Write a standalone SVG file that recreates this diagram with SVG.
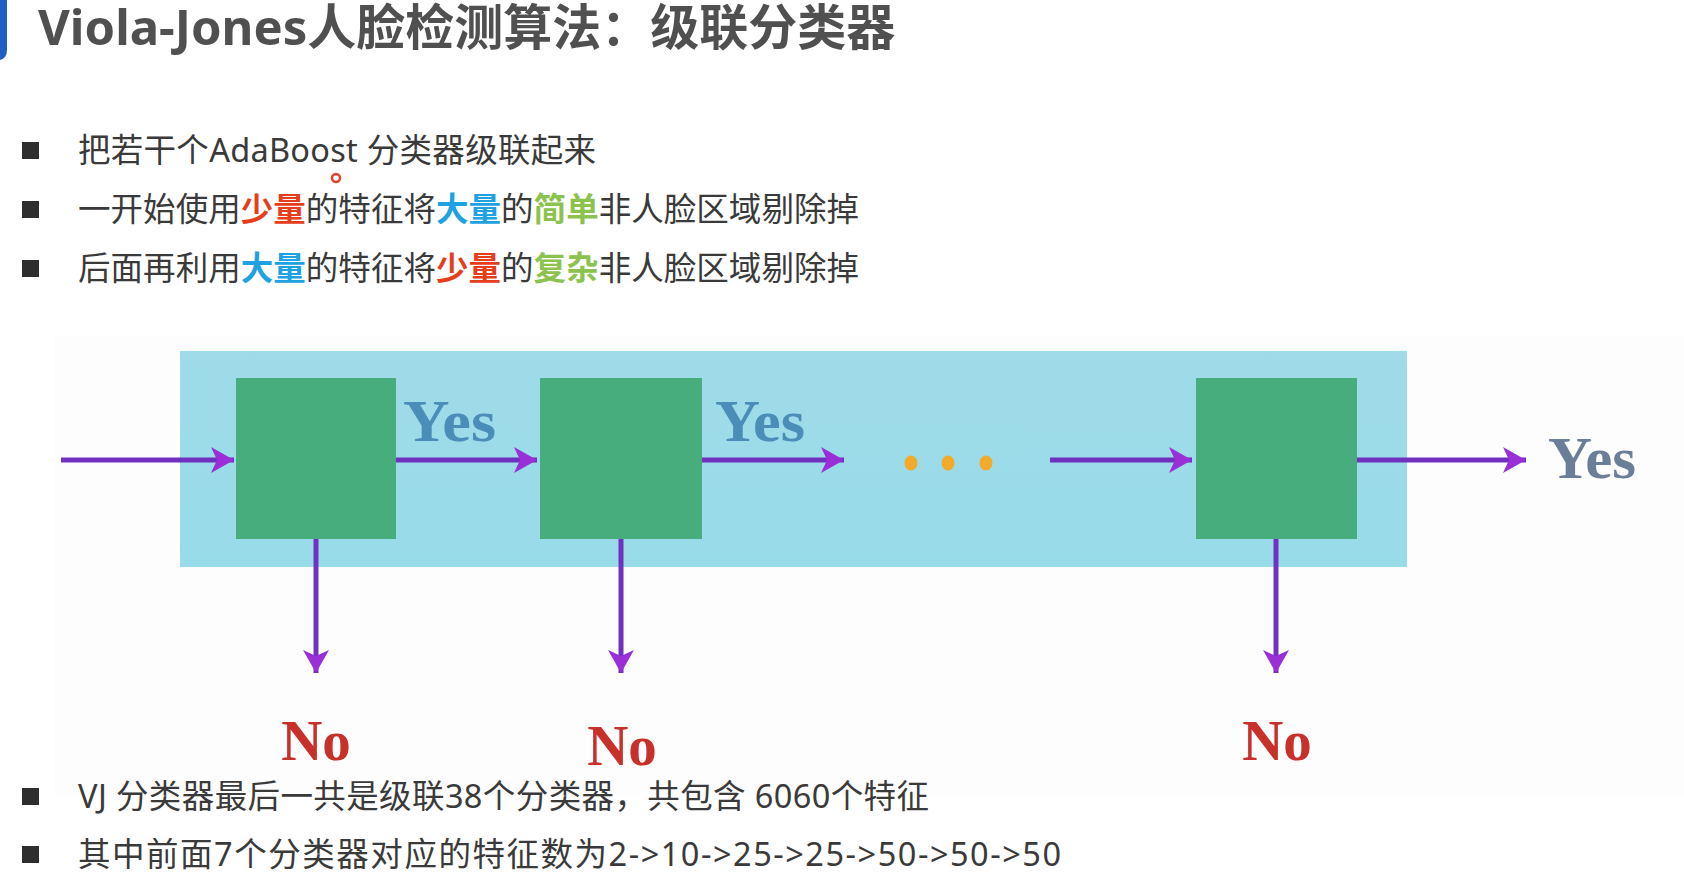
<svg xmlns="http://www.w3.org/2000/svg" width="1684" height="884" viewBox="0 0 1684 884">
<defs>
<style>
.cn{font-family:"Noto Sans","Noto Sans CJK SC",sans-serif;font-size:32.5px;fill:#3a3a3a}
.b{font-weight:bold}
.red{fill:#e63d1c}.blue{fill:#1ea2e2}.green{fill:#8cc34e}
.yes{font-family:"Liberation Serif",serif;font-weight:bold;font-size:59px;fill:#4a8db8}
.no{font-family:"Liberation Serif",serif;font-weight:bold;font-size:57px;fill:#c8302a;text-anchor:middle}
.box{fill:#48ad7c}
.ln{stroke:#7030c0;stroke-width:5;fill:none}
.bul{fill:#2e2e2e}
</style>
<marker id="ah" markerUnits="userSpaceOnUse" markerWidth="28" markerHeight="28" refX="23" refY="13" orient="auto" overflow="visible">
<path d="M0,0 L23,13 L0,26 L6,13 z" fill="#9a2fd8"/>
</marker>
<linearGradient id="bandg" x1="0" y1="0" x2="0" y2="1">
<stop offset="0" stop-color="#9fdbe8"/>
<stop offset="1" stop-color="#98dbe9"/>
</linearGradient>
</defs>
<rect width="1684" height="884" fill="#ffffff"/>
<path d="M0,0 H7 V50 Q7,58 0,60 Z" fill="#1f5fc4"/>
<text x="38" y="45" font-family="Noto Sans,'Noto Sans CJK SC',sans-serif" font-weight="bold" font-size="49" fill="#505050">Viola-Jones人脸检测算法：级联分类器</text>

<g id="bullets-top">
<rect class="bul" x="22" y="142" width="17" height="17"/>
<rect class="bul" x="22" y="201" width="17" height="17"/>
<rect class="bul" x="22" y="260" width="17" height="17"/>
<text class="cn" x="78" y="162" textLength="518" lengthAdjust="spacing">把若干个AdaBoost 分类器级联起来</text>
<text class="cn" x="78" y="221" textLength="781" lengthAdjust="spacing">一开始使用<tspan class="b red">少量</tspan>的特征将<tspan class="b blue">大量</tspan>的<tspan class="b green">简单</tspan>非人脸区域剔除掉</text>
<text class="cn" x="78" y="280" textLength="781" lengthAdjust="spacing">后面再利用<tspan class="b blue">大量</tspan>的特征将<tspan class="b red">少量</tspan>的<tspan class="b green">复杂</tspan>非人脸区域剔除掉</text>
<circle cx="336" cy="178" r="4" fill="none" stroke="#e8402a" stroke-width="2.5"/>
</g>

<rect x="55" y="335" width="1629" height="460" fill="#fdfdfe"/>
<rect id="band" x="180" y="351" width="1227" height="216" fill="url(#bandg)"/>

<g id="node1"><rect class="box" x="236" y="378" width="160" height="161"/></g>
<g id="node2"><rect class="box" x="540" y="378" width="162" height="161"/></g>
<g id="node3"><rect class="box" x="1196" y="378" width="161" height="161"/></g>
<g id="dots">
<ellipse cx="911" cy="463" rx="6.5" ry="7.5" fill="#f3a92a"/>
<ellipse cx="948" cy="463" rx="6.5" ry="7.5" fill="#f3a92a"/>
<ellipse cx="986" cy="463" rx="6.5" ry="7.5" fill="#f3a92a"/>
</g>

<g id="connectors">
<line class="ln" x1="61" y1="460" x2="234" y2="460" marker-end="url(#ah)"/>
<line class="ln" x1="396" y1="460" x2="537" y2="460" marker-end="url(#ah)"/>
<line class="ln" x1="702" y1="460" x2="844" y2="460" marker-end="url(#ah)"/>
<line class="ln" x1="1050" y1="460" x2="1192" y2="460" marker-end="url(#ah)"/>
<line class="ln" x1="1357" y1="460" x2="1526" y2="460" marker-end="url(#ah)"/>
<line class="ln" x1="316" y1="539" x2="316" y2="673" stroke-width="4" marker-end="url(#ah)"/>
<line class="ln" x1="621" y1="539" x2="621" y2="673" stroke-width="4" marker-end="url(#ah)"/>
<line class="ln" x1="1276" y1="539" x2="1276" y2="673" stroke-width="4" marker-end="url(#ah)"/>
</g>

<g id="labels">
<text class="yes" x="403" y="441" textLength="93" lengthAdjust="spacingAndGlyphs">Yes</text>
<text class="yes" x="715" y="441" textLength="90" lengthAdjust="spacingAndGlyphs">Yes</text>
<text class="yes" x="1548" y="478" textLength="88" lengthAdjust="spacingAndGlyphs" style="fill:#6a7e98">Yes</text>
<text class="no" x="316" y="760">No</text>
<text class="no" x="622" y="765">No</text>
<text class="no" x="1277" y="760">No</text>
</g>

<g id="bullets-bottom">
<rect class="bul" x="22" y="788" width="17" height="17"/>
<rect class="bul" x="22" y="846" width="17" height="17"/>
<text class="cn" x="78" y="808" textLength="851" lengthAdjust="spacing">VJ 分类器最后一共是级联38个分类器，共包含 6060个特征</text>
<text class="cn" x="78" y="866" textLength="983" lengthAdjust="spacing">其中前面7个分类器对应的特征数为2-&gt;10-&gt;25-&gt;25-&gt;50-&gt;50-&gt;50</text>
</g>
</svg>
